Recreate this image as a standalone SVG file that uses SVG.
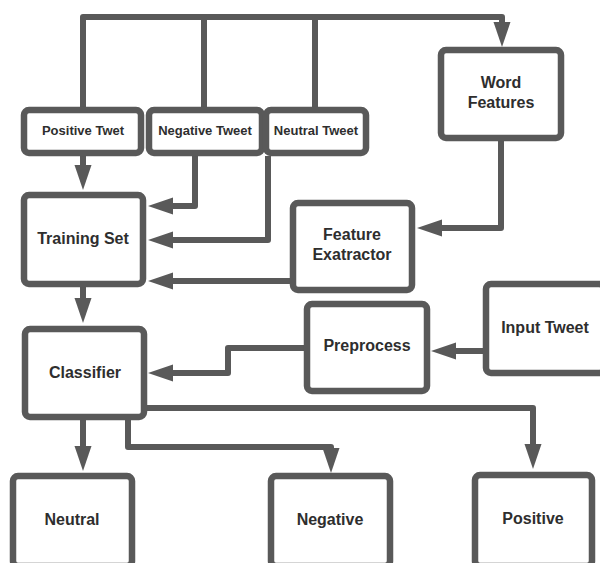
<svg xmlns="http://www.w3.org/2000/svg" width="600" height="563" viewBox="0 0 600 563">
<style>
.box{fill:#fff;stroke:#595959;stroke-width:6.5}
.lbl{font-family:"Liberation Sans",Arial,sans-serif;font-weight:bold;fill:#2e2e2e;text-anchor:middle;font-size:16px}
.sm{font-size:13px}
.con{fill:none;stroke:#595959;stroke-width:6;stroke-linejoin:round}
</style>
<defs>
<marker id="ah" markerUnits="userSpaceOnUse" markerWidth="25" markerHeight="17" refX="0" refY="8.5" orient="auto" overflow="visible">
<path d="M0,0 L25,8.5 L0,17 z" fill="#595959"/>
</marker>
</defs>
<rect width="600" height="563" fill="#fff"/>
<g id="connectors">
<path class="con" d="M83,108 V17 H502 V22" marker-end="url(#ah)"/>
<path class="con" d="M204,108 V17"/>
<path class="con" d="M315,108 V17"/>
<path class="con" d="M83,156 V165" marker-end="url(#ah)"/>
<path class="con" d="M195,156 V206 H173" marker-end="url(#ah)"/>
<path class="con" d="M268,156 V240 H173" marker-end="url(#ah)"/>
<path class="con" d="M501,141 V228 H442" marker-end="url(#ah)"/>
<path class="con" d="M291,281 H173" marker-end="url(#ah)"/>
<path class="con" d="M83,287 V298" marker-end="url(#ah)"/>
<path class="con" d="M484,351 H456" marker-end="url(#ah)"/>
<path class="con" d="M305,348 H228 V373 H173" marker-end="url(#ah)"/>
<path class="con" d="M83,420 V446" marker-end="url(#ah)"/>
<path class="con" d="M128,420 V447 H331 V448" marker-end="url(#ah)"/>
<path class="con" d="M146,408 H533 V444" marker-end="url(#ah)"/>
</g>
<g id="positive-tweet"><rect class="box" x="24" y="110" width="117" height="43" rx="5"/><text class="lbl sm" x="83" y="135">Positive Twet</text></g>
<g id="negative-tweet"><rect class="box" x="149" y="110" width="113" height="43" rx="5"/><text class="lbl sm" x="205" y="135">Negative Tweet</text></g>
<g id="neutral-tweet"><rect class="box" x="266" y="110" width="100" height="43" rx="5"/><text class="lbl sm" x="316" y="135">Neutral Tweet</text></g>
<g id="word-features"><rect class="box" x="441" y="50" width="120" height="88" rx="5"/><text class="lbl" x="501" y="88">Word</text><text class="lbl" x="501" y="108">Features</text></g>
<g id="training-set"><rect class="box" x="24" y="195" width="119" height="89" rx="5"/><text class="lbl" x="83" y="244">Training Set</text></g>
<g id="feature-extractor"><rect class="box" x="293" y="203" width="119" height="87" rx="5"/><text class="lbl" x="352" y="240">Feature</text><text class="lbl" x="352" y="260">Exatractor</text></g>
<g id="classifier"><rect class="box" x="25" y="329" width="119" height="88" rx="5"/><text class="lbl" x="85" y="378">Classifier</text></g>
<g id="preprocess"><rect class="box" x="307" y="304" width="120" height="87" rx="5"/><text class="lbl" x="367" y="351">Preprocess</text></g>
<g id="input-tweet"><rect class="box" x="486" y="284" width="118" height="89" rx="5"/><text class="lbl" x="545" y="333">Input Tweet</text></g>
<g id="neutral"><rect class="box" x="13" y="476" width="119" height="90" rx="5"/><text class="lbl" x="72" y="525">Neutral</text></g>
<g id="negative"><rect class="box" x="271" y="476" width="119" height="90" rx="5"/><text class="lbl" x="330" y="525">Negative</text></g>
<g id="positive"><rect class="box" x="475" y="475" width="117" height="91" rx="5"/><text class="lbl" x="533" y="524">Positive</text></g>
</svg>
